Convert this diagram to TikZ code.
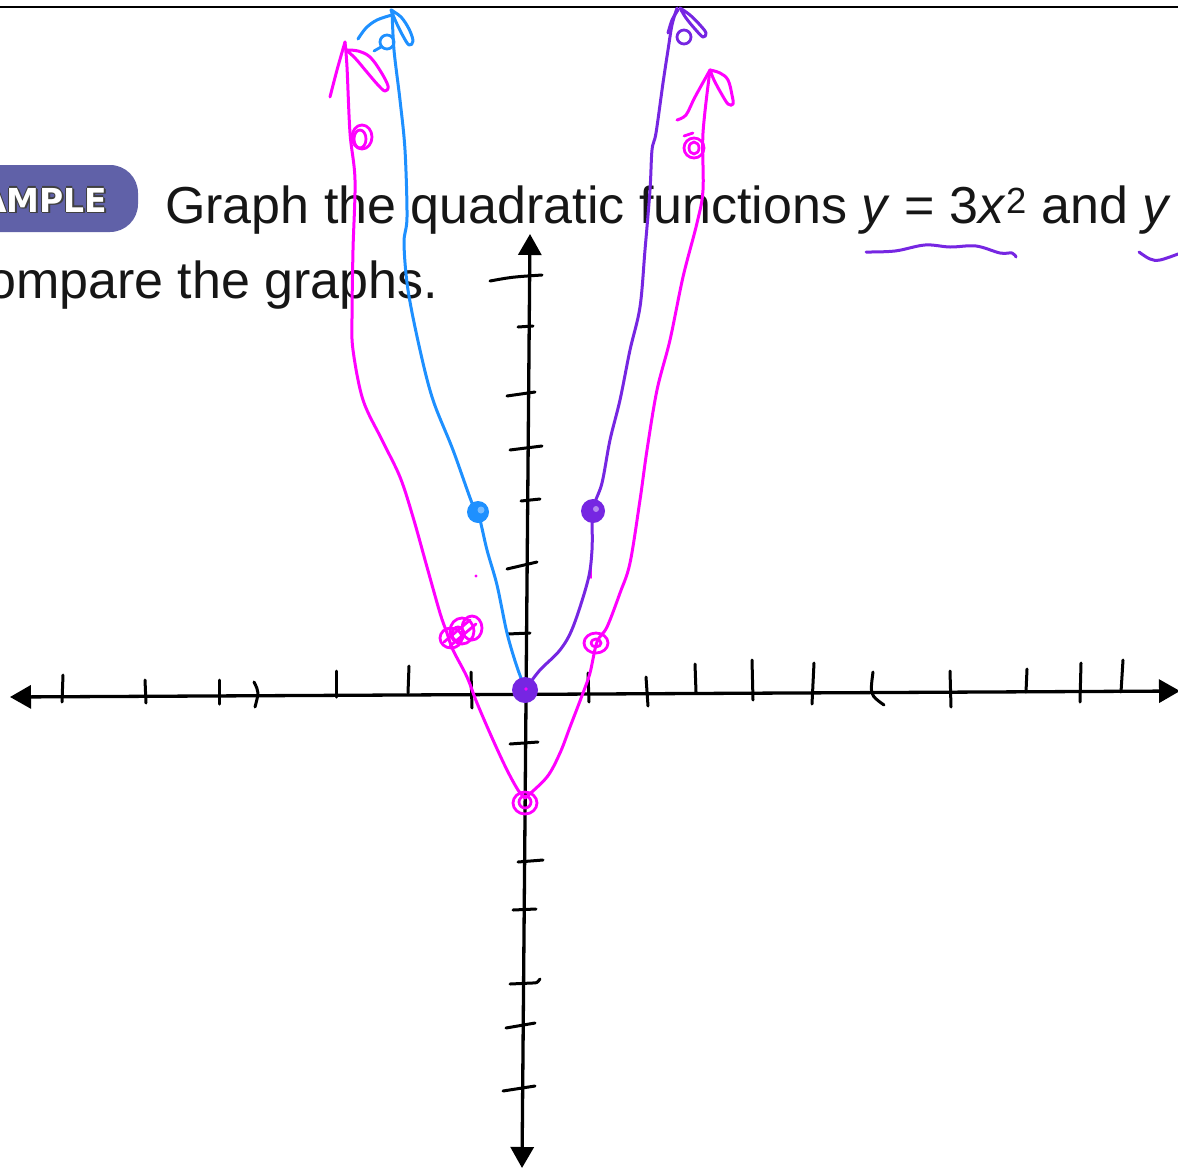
\documentclass[tikz,border=0pt]{standalone}
\usepackage{fontspec}
\setmainfont{Liberation Sans}
\newfontfamily\badgefont{DejaVu Sans}
\usetikzlibrary{arrows.meta}
\definecolor{pblue}{RGB}{30,144,255}
\definecolor{ppurple}{RGB}{118,38,226}
\definecolor{pmag}{RGB}{255,0,255}
\definecolor{badgec}{RGB}{96,97,168}
\definecolor{txt}{RGB}{22,22,22}
\begin{document}
\begin{tikzpicture}[x=1pt,y=-1pt,line cap=round,line join=round,
  ink/.style={line width=3pt},
  axisline/.style={line width=3.3pt,black},
  tickmark/.style={line width=3pt,black},
  scrib/.style={line width=2.8pt},
  badgetxt/.style={anchor=base west,inner sep=0pt,font=\badgefont\bfseries\fontsize{33}{33}\selectfont},
  title/.style={anchor=base west,inner sep=0pt,text=txt,font=\fontsize{52}{60}\selectfont}]
\useasboundingbox (0,0) rectangle (1178,1170);
\clip (0,0) rectangle (1178,1170);
\fill[white] (0,0) rectangle (1178,1170);

% top rule
\coordinate (tl) at (0,7);
\coordinate (tr) at (1178,7);
\draw[line width=2pt,black] (tl) -- (tr);

% badge
\fill[badgec,rounded corners=28pt] (-40,165) rectangle (138,232);
\foreach \dx/\dy in {-1.2/0,1.2/0,0/-1.2,0/1.2,1.5/1.5}
  \node[badgetxt,text=black!75] at (-19+\dx,212+\dy) {AMPLE};
\node[badgetxt,text=white] (badge) at (-19,212) {AMPLE};

% title
\node[title] (t1) at (165,223) {Graph the quadratic functions \textit{y} = 3\textit{x}\textsuperscript{2} and \textit{y}};
\node[title] (t2) at (-13,298) {ompare the graphs.};

% underlines
\draw[ppurple,ink] plot[smooth,tension=0.6] coordinates {(866,252) (895,251) (925,245) (950,247) (976,246) (1000,253) (1012,253) (1016,257)};
\draw[ppurple,ink] plot[smooth,tension=0.6] coordinates {(1139,252) (1150,259) (1160,260) (1178,254)};

% axes
\coordinate (xl) at (10,697);
\coordinate (xr) at (1180,691);
\coordinate (yt) at (530,234);
\coordinate (yb) at (522,1168);
\draw[axisline,{Triangle[length=21pt,width=23pt]}-{Triangle[length=21pt,width=23pt]}] (xl) -- (xr);
\draw[axisline,{Triangle[length=21pt,width=23pt]}-{Triangle[length=21pt,width=23pt]}] (yt) -- (yb);

% x ticks
\draw[tickmark] (63,675)--(62,702);
\draw[tickmark] (145,680)--(146,703);
\draw[tickmark] (219,680)--(219,704);
\draw[tickmark] (254,682) .. controls (259,692) .. (255,707);
\draw[tickmark] (336,671)--(336,697);
\draw[tickmark] (409,666)--(408,693);
\draw[tickmark] (471,672)--(472,708);
\draw[tickmark] (588,673)--(589,702);
\draw[tickmark] (646,677)--(648,706);
\draw[tickmark] (695,664)--(696,692);
\draw[tickmark] (752,660)--(753,700);
\draw[tickmark] (814,663)--(812,704);
\draw[tickmark] (873,672) .. controls (870,695) .. (884,705);
\draw[tickmark] (950,671)--(951,707);
\draw[tickmark] (1027,669)--(1026,692);
\draw[tickmark] (1081,663)--(1080,702);
\draw[tickmark] (1123,660)--(1121,692);

% y ticks
\draw[tickmark] (490,281) .. controls (512,277) .. (542,275);
\draw[tickmark] (518,327)--(533,326);
\draw[tickmark] (507,396)--(535,392);
\draw[tickmark] (510,450)--(542,446);
\draw[tickmark] (521,501)--(540,499);
\draw[tickmark] (507,569)--(537,562);
\draw[tickmark] (508,634)--(530,633);
\draw[tickmark] (510,744)--(538,742);
\draw[tickmark] (518,862)--(543,860);
\draw[tickmark] (513,910)--(536,909);
\draw[tickmark] (510,984)--(532,983) .. controls (537,983) .. (540,979);
\draw[tickmark] (506,1028)--(535,1023);
\draw[tickmark] (503,1091)--(535,1086);

% magenta curve
\draw[pmag,ink] plot[smooth,tension=0.55] coordinates {(345,42) (347,67) (350,133) (355,180) (353,250) (352,317) (353,350) (363,400) (382,440) (400,477) (413,517) (427,567) (440,613) (447,633) (453,650) (467,677) (477,703) (493,740) (507,770) (518,790) (525,798)};
\draw[pmag,ink] plot[smooth,tension=0.55] coordinates {(525,798) (547,777) (560,753) (570,727) (583,693) (590,673) (597,642) (607,627) (620,593) (630,563) (640,500) (647,450) (657,390) (670,340) (683,277) (697,223) (703,190) (703,133) (710,70)};
% magenta top-left arrow and loop
\draw[pmag,ink] plot[smooth,tension=0.5] coordinates {(330,97) (337,70) (345,42)};
\draw[pmag,ink] plot[smooth,tension=0.6] coordinates {(346,50) (358,51) (370,57) (381,72) (388,86) (385,91) (378,85) (366,71) (355,58) (346,50)};
\draw[pmag,scrib] (362,137) ellipse (10 and 12);
\draw[pmag,scrib] (360,139) ellipse (6 and 9);
% magenta top-right arrow and loop
\draw[pmag,ink] plot[smooth,tension=0.5] coordinates {(677,120) (686,115) (695,97) (710,70)};
\draw[pmag,ink] plot[smooth,tension=0.6] coordinates {(710,70) (720,73) (728,80) (732,95) (733,104) (728,104) (721,93) (714,80) (710,70)};
\draw[pmag,scrib] (694,148) ellipse (10 and 10);
\draw[pmag,scrib] (694,148) ellipse (5 and 6);
\draw[pmag,scrib] (684,136) -- (693,133);
% magenta dots
\draw[pmag,scrib] (451,638) ellipse (11 and 10);
\draw[pmag,scrib] (462,631) ellipse (12 and 13);
\draw[pmag,scrib] (472,628) ellipse (10 and 12);
\draw[pmag,scrib] (458,634) ellipse (6 and 7);
\draw[pmag,scrib] (444,642) -- (470,620);
\draw[pmag,scrib] (450,646) -- (476,624);
\draw[pmag,scrib] (525,803) ellipse (12 and 11);
\draw[pmag,scrib] (525,802) ellipse (6 and 6);
\draw[pmag,scrib] (596,643) ellipse (12 and 10);
\draw[pmag,scrib] (596,643) ellipse (5 and 4);
\fill[pmag] (476,576) circle (1.6);
\draw[pmag,line width=1.8pt] (591,567) -- (591,578);

% blue curve
\draw[pblue,ink] plot[smooth,tension=0.55] coordinates {(392,10) (394,50) (400,100) (405,150) (407,217) (404,243) (408,290) (420,350) (433,400) (453,450) (472,503) (478,512) (487,550) (497,585) (507,633) (517,667) (525,688)};
\draw[pblue,ink] plot[smooth,tension=0.6] coordinates {(358,39) (366,28) (377,20) (392,15)};
\draw[pblue,ink] plot[smooth,tension=0.6] coordinates {(391,10) (401,17) (409,29) (413,41) (409,45) (403,36) (396,22) (391,10)};
\draw[pblue,scrib] (387,42) ellipse (7 and 7);
\draw[pblue,scrib] (374,51) -- (381,47);
\fill[pblue] (478,512) circle (11);
\fill[pblue!60] (481,510) circle (3.5);

% purple curve
\draw[ppurple,ink] plot[smooth,tension=0.55] coordinates {(677,8) (672,25) (668,50) (663,83) (656,133) (652,150) (650,190) (645,250) (640,307) (630,350) (620,400) (610,440) (602,483) (593,510) (592,550) (588,580) (573,627) (560,650) (540,670) (527,687)};
\draw[ppurple,ink] plot[smooth,tension=0.5] coordinates {(668,33) (672,20) (678,10)};
\draw[ppurple,ink] plot[smooth,tension=0.6] coordinates {(680,8) (690,15) (700,25) (706,33) (703,37) (695,29) (686,18) (680,8)};
\draw[ppurple,scrib] (684,37) ellipse (7 and 7);
\fill[ppurple] (593,511) circle (12);
\fill[ppurple!55] (596,509) circle (3);
\fill[ppurple] (525,690) circle (13);
\fill[pmag] (526,689) circle (1.8);
\end{tikzpicture}
\end{document}
